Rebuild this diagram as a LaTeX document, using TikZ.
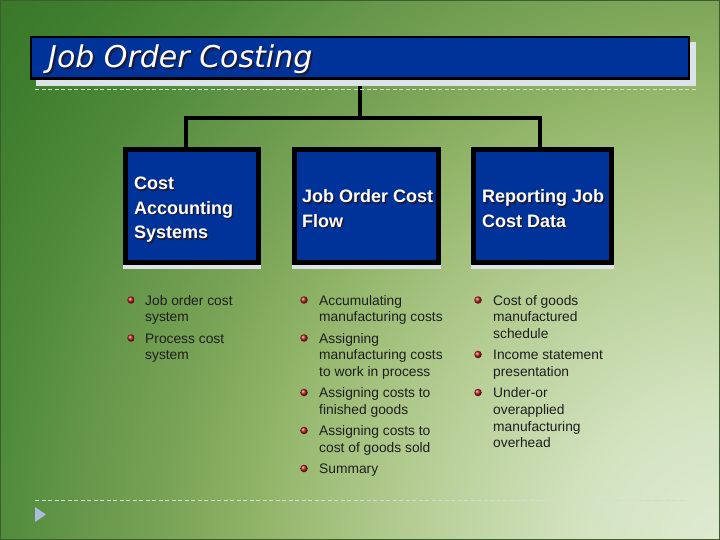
\documentclass[tikz,border=0pt]{standalone}
\usepackage{fontspec}
\setmainfont{Liberation Sans}
\newfontfamily\ttlfont{DejaVu Sans}
\definecolor{boxblue}{HTML}{003399}
\definecolor{shc}{HTML}{DCE4E8}
\definecolor{dashc}{HTML}{D2DCD0}
\definecolor{bodyc}{HTML}{1E1E1E}
\definecolor{tshadow}{HTML}{1A1A3A}
\definecolor{triblue}{HTML}{A8BEDC}
\definecolor{bullred}{HTML}{B01818}
\definecolor{frame}{HTML}{3C5E2E}
\definecolor{ga}{HTML}{E0EBD3}
\definecolor{gb}{HTML}{D3E3C0}
\definecolor{gc}{HTML}{B9D099}
\definecolor{gd}{HTML}{A3C17D}
\definecolor{ge}{HTML}{8FB366}
\definecolor{gf}{HTML}{7AA457}
\definecolor{gg}{HTML}{66974A}
\definecolor{gh}{HTML}{4E8A3A}
\definecolor{gi}{HTML}{3E7D2D}
\definecolor{gj}{HTML}{367428}
\pgfdeclareradialshading{bgrad}{\pgfpoint{0bp}{0bp}}{color(0bp)=(ga); color(150bp)=(gb); color(300bp)=(gc); color(400bp)=(gd); color(480bp)=(ge); color(560bp)=(gf); color(650bp)=(gg); color(740bp)=(gh); color(850bp)=(gi); color(960bp)=(gj)}
\newcommand\shtx[1]{\leavevmode\rlap{\kern1.5bp\raisebox{-1.5bp}{\color{tshadow}#1}}#1}
\newcommand\shtt[1]{\leavevmode\rlap{\kern2bp\raisebox{-2bp}{\color{tshadow}#1}}#1}
\begin{document}
\begin{tikzpicture}[x=1bp,y=-1bp,
  box/.style={draw=black, line width=5bp, fill=boxblue, minimum height=113bp, inner sep=0, outer sep=0},
  boxsh/.style={draw=shc, fill=shc, line width=5bp, minimum height=113bp, inner sep=0, outer sep=0},
  conn/.style={draw=black, line width=4.5bp},
  boxtxt/.style={anchor=base west, inner sep=0, text=white, font=\fontsize{18bp}{24.5bp}\selectfont\bfseries},
  item/.style={anchor=base west, inner sep=0, text=bodyc, font=\fontsize{13.8bp}{16.8bp}\selectfont},
  bul/.style={circle, inner sep=0, minimum size=7.5bp, shading=ball, ball color=bullred},
  dashl/.style={draw=dashc, line width=0.8bp, dash pattern=on 4bp off 2.5bp}]
\useasboundingbox (0,0) rectangle (720,540);
\begin{scope}
\clip (0,0) rectangle (720,540);
\node[inner sep=0, outer sep=0] (bgsh) at (730,550) {\pgfuseshading{bgrad}};
\end{scope}
\draw[line width=1bp, frame] (0.5,0.5) rectangle (719.5,539.5);
% title
\node[draw=shc, fill=shc, line width=2.5bp, minimum width=657.5bp, minimum height=41.5bp, inner sep=0] (titlesh) at (366,64) {};
\coordinate (lx) at (186,0);
\coordinate (rx) at (540,0);
\coordinate (jn) at (360,118);
% boxes' shadows
\node[boxsh, minimum width=133bp] (b1s) at (192,210) {};
\node[boxsh, minimum width=144bp] (b2s) at (366.5,210) {};
\node[boxsh, minimum width=138bp] (b3s) at (542.5,210) {};
\node[box, minimum width=133bp] (b1) at (192,206) {};
\node[box, minimum width=144bp] (b2) at (366.5,206) {};
\node[box, minimum width=138bp] (b3) at (542.5,206) {};
\draw[conn] (b1.north -| lx) |- (jn) -| (b3.north -| rx);
\draw[conn] (titlesh.south -| jn) -- (jn);
\node[draw=black, fill=boxblue, line width=2.5bp, minimum width=657.5bp, minimum height=41.5bp, inner sep=0] (title) at (360,58) {};
\node[anchor=base west, inner sep=0, text=white, font=\ttlfont\itshape\fontsize{30bp}{30bp}\selectfont] (ttxt) at (48,68) {\shtt{Job Order Costing}};
\draw[dashl] (35,89.5) -- (697,89.5);
% box texts
\node[boxtxt] (b1t) at (134,190) {\parbox[t]{125bp}{\raggedright\shtx{Cost}\\\shtx{Accounting}\\\shtx{Systems}}};
\node[boxtxt] (b2t) at (302,203) {\parbox[t]{140bp}{\raggedright\shtx{Job Order Cost}\\\shtx{Flow}}};
\node[boxtxt] (b3t) at (482,203) {\parbox[t]{130bp}{\raggedright\shtx{Reporting Job}\\\shtx{Cost Data}}};
% column 1
\node[bul] (c1b1) at (131,300) {};
\node[item] (c1i1) at (145,305) {\parbox[t]{140bp}{\raggedright Job order cost\\system}};
\node[bul] (c1b2) at (131,338) {};
\node[item] (c1i2) at (145,343) {\parbox[t]{140bp}{\raggedright Process cost\\system}};
% column 2
\node[bul] (c2b1) at (304,300) {};
\node[item] (c2i1) at (319,305) {\parbox[t]{150bp}{\raggedright Accumulating\\manufacturing costs}};
\node[bul] (c2b2) at (304,338) {};
\node[item] (c2i2) at (319,343) {\parbox[t]{150bp}{\raggedright Assigning\\manufacturing costs\\to work in process}};
\node[bul] (c2b3) at (304,392.5) {};
\node[item] (c2i3) at (319,397.5) {\parbox[t]{150bp}{\raggedright Assigning costs to\\finished goods}};
\node[bul] (c2b4) at (304,430.5) {};
\node[item] (c2i4) at (319,435.5) {\parbox[t]{150bp}{\raggedright Assigning costs to\\cost of goods sold}};
\node[bul] (c2b5) at (304,468.5) {};
\node[item] (c2i5) at (319,473.5) {\parbox[t]{150bp}{\raggedright Summary}};
% column 3
\node[bul] (c3b1) at (478,300) {};
\node[item] (c3i1) at (493,305) {\parbox[t]{150bp}{\raggedright Cost of goods\\manufactured\\schedule}};
\node[bul] (c3b2) at (478,354.5) {};
\node[item] (c3i2) at (493,359.5) {\parbox[t]{150bp}{\raggedright Income statement\\presentation}};
\node[bul] (c3b3) at (478,392.5) {};
\node[item] (c3i3) at (493,397.5) {\parbox[t]{150bp}{\raggedright Under-or\\overapplied\\manufacturing\\overhead}};
% footer
\draw[dashl] (35,500) -- (686,500);
\fill[triblue] (35,507) -- (35,522) -- (46,514.5) -- cycle;
\end{tikzpicture}
\end{document}
